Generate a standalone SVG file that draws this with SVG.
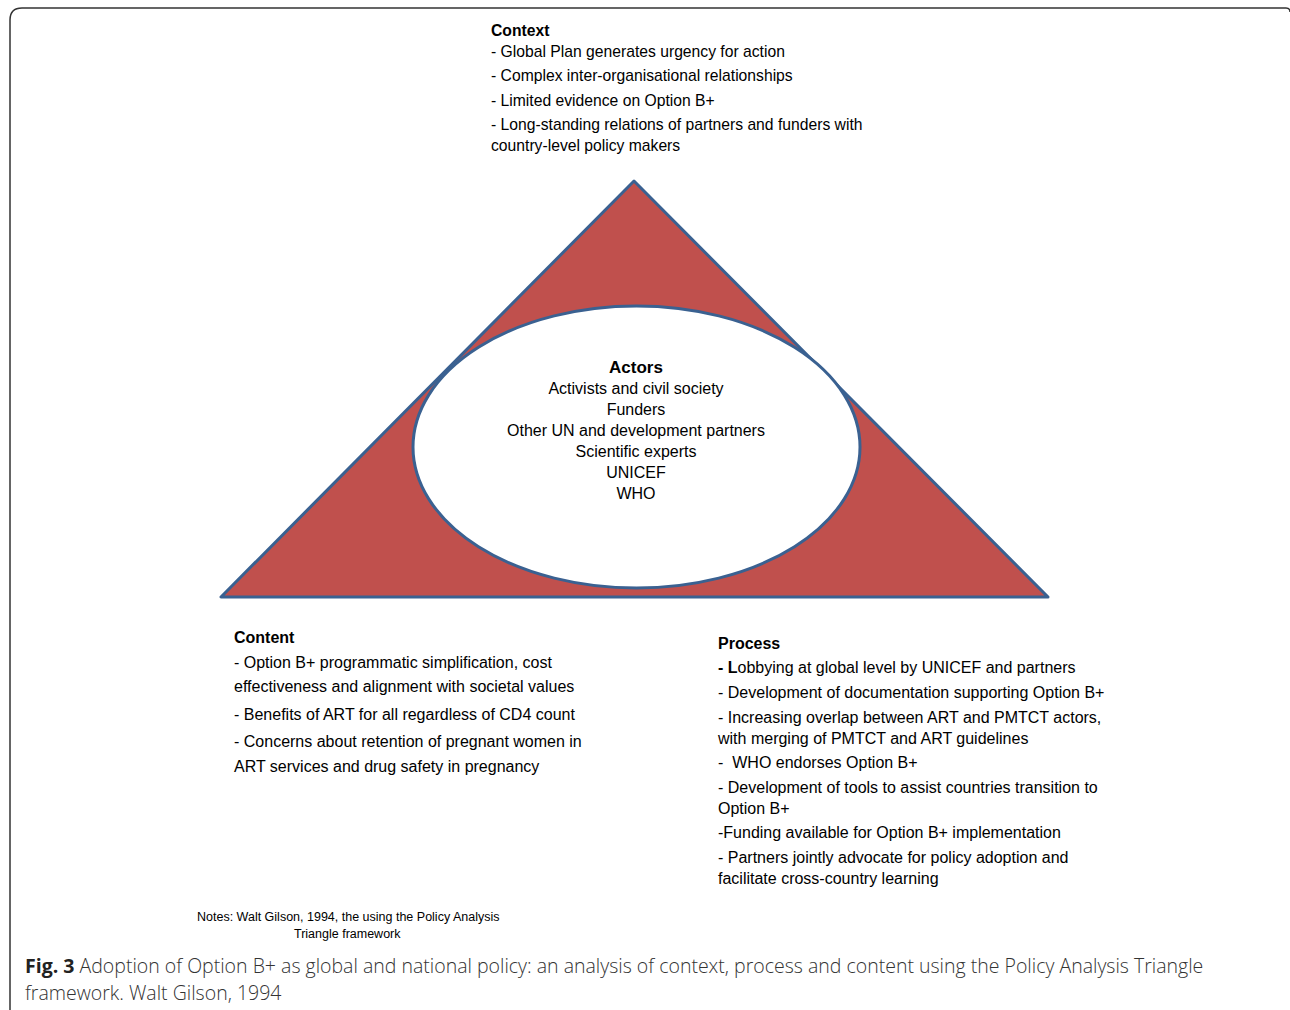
<svg xmlns="http://www.w3.org/2000/svg" width="1290" height="1010" viewBox="0 0 1290 1010">
<style>
.t{font-family:"Liberation Sans","Open Sans",Arial,sans-serif;font-size:16px;fill:#000}
.cx{font-size:15.7px}
.b{font-weight:bold}
.c{text-anchor:middle}
.n{font-family:"Liberation Sans",Arial,sans-serif;font-size:12.5px;fill:#000}
.cap{font-family:"Open Sans","Liberation Sans",sans-serif;font-size:19.5px;font-weight:300;fill:#333}
</style>
<rect width="1290" height="1010" fill="#fff"/>
<path d="M10,1010 V20 Q10,8 22,8 H1286 Q1290,8 1290,12" fill="none" stroke="#333" stroke-width="1.5"/>
<g id="triangle">
<polygon points="634,181 221,597 1048,597" fill="#C0504D" stroke="#3A6191" stroke-width="3" stroke-linejoin="round"/>
</g>
<g id="actors">
<ellipse cx="636.5" cy="447" rx="223.5" ry="141" fill="#fff" stroke="#3A6191" stroke-width="3"/>
<text class="t b c" x="636" y="373" style="font-size:17px">Actors</text>
<text class="t c" x="636" y="394">Activists and civil society</text>
<text class="t c" x="636" y="415">Funders</text>
<text class="t c" x="636" y="436">Other UN and development partners</text>
<text class="t c" x="636" y="457">Scientific experts</text>
<text class="t c" x="636" y="478">UNICEF</text>
<text class="t c" x="636" y="499">WHO</text>
</g>
<g id="context">
<text class="t cx b" x="491" y="36">Context</text>
<text class="t cx" x="491" y="57">- Global Plan generates urgency for action</text>
<text class="t cx" x="491" y="81">- Complex inter-organisational relationships</text>
<text class="t cx" x="491" y="106">- Limited evidence on Option B+</text>
<text class="t cx" x="491" y="130">- Long-standing relations of partners and funders with</text>
<text class="t cx" x="491" y="151">country-level policy makers</text>
</g>
<g id="content">
<text class="t b" x="234" y="643">Content</text>
<text class="t" x="234" y="668">- Option B+ programmatic simplification, cost</text>
<text class="t" x="234" y="692">effectiveness and alignment with societal values</text>
<text class="t" x="234" y="720">- Benefits of ART for all regardless of CD4 count</text>
<text class="t" x="234" y="747">- Concerns about retention of pregnant women in</text>
<text class="t" x="234" y="772">ART services and drug safety in pregnancy</text>
</g>
<g id="process">
<text class="t b" x="718" y="649">Process</text>
<text class="t" x="718" y="673"><tspan class="b">- L</tspan>obbying at global level by UNICEF and partners</text>
<text class="t" x="718" y="698">- Development of documentation supporting Option B+</text>
<text class="t" x="718" y="723">- Increasing overlap between ART and PMTCT actors,</text>
<text class="t" x="718" y="744">with merging of PMTCT and ART guidelines</text>
<text class="t" x="718" y="768" xml:space="preserve">-  WHO endorses Option B+</text>
<text class="t" x="718" y="793">- Development of tools to assist countries transition to</text>
<text class="t" x="718" y="814">Option B+</text>
<text class="t" x="718" y="838">-Funding available for Option B+ implementation</text>
<text class="t" x="718" y="863">- Partners jointly advocate for policy adoption and</text>
<text class="t" x="718" y="884">facilitate cross-country learning</text>
</g>
<g id="connectors"></g>
<g id="notes">
<text class="n" x="197" y="921">Notes: Walt Gilson, 1994, the using the Policy Analysis</text>
<text class="n" x="294" y="938">Triangle framework</text>
</g>
<g id="caption">
<text class="cap" x="25" y="973"><tspan font-weight="bold" fill="#222">Fig. 3</tspan> Adoption of Option B+ as global and national policy: an analysis of context, process and content using the Policy Analysis Triangle</text>
<text class="cap" x="25" y="1000">framework. Walt Gilson, 1994</text>
</g>
</svg>
